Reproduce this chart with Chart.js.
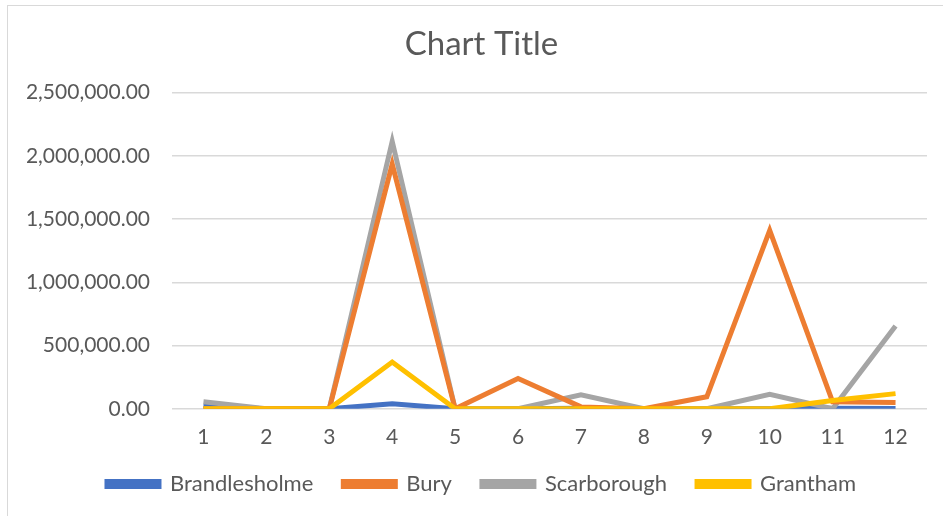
<!DOCTYPE html>
<html>
<head>
<meta charset="utf-8">
<script src="https://cdn.jsdelivr.net/npm/chart.js@4"></script>
<style>
    html, body { margin: 0; padding: 0; background: #fff; }
    #wrap { position: relative; width: 943px; height: 516px; overflow: hidden; }
    #frame { position: absolute; left: 7px; top: 5px; width: 960px; height: 540px; border: 1px solid #d9d9d9; box-sizing: border-box; }
    canvas { position: absolute; left: 0; top: 0; }
</style>
</head>
<body>
<div id="wrap">
    <div id="frame"></div>
    <canvas id="chart" width="943" height="516"></canvas>
</div>
<script>
// Monthly values per site
const months = ['1', '2', '3', '4', '5', '6', '7', '8', '9', '10', '11', '12'];
const brandlesholme = [20000, 0, 0, 40000, 0, 0, 5000, 0, 0, 0, 5000, 3000];
const bury = [0, 0, 0, 1935000, 0, 240000, 15000, 0, 95000, 1410000, 55000, 50000];
const scarborough = [55000, 0, 0, 2115000, 0, 0, 110000, 0, 0, 115000, 0, 655000];
const grantham = [0, 0, 0, 370000, 0, 0, 0, 0, 0, 0, 65000, 120000];
const yTicks = [0, 500000, 1000000, 1500000, 2000000, 2500000];

const textColor = '#595959';
const fontFamily = 'Lato, "Open Sans", sans-serif';

function series(label, data, color, order) {
    return {
        label: label,
        data: data,
        borderColor: color,
        backgroundColor: color,
        borderWidth: 5,
        pointRadius: 0,
        tension: 0,
        order: order
    };
}

// nudge title and legend: legend up (keeps wide item spacing), both a bit right
const boxNudge = {
    id: 'boxNudge',
    afterLayout(chart) {
        const lg = chart.legend;
        lg.top -= 23;
        lg.bottom -= 23;
        lg.left += 13;
        lg.right += 13;
        const tt = chart.titleBlock;
        tt.left += 13;
        tt.right += 13;
    }
};

new Chart(document.getElementById('chart').getContext('2d'), {
    type: 'line',
    data: {
        labels: months,
        datasets: [
            series('Brandlesholme', brandlesholme, '#4472C4', 3),
            series('Bury', bury, '#ED7D31', 1),
            series('Scarborough', scarborough, '#A5A5A5', 2),
            series('Grantham', grantham, '#FFC000', 0)
        ]
    },
    plugins: [boxNudge],
    options: {
        responsive: false,
        animation: false,
        layout: { padding: { left: 10, right: 16, top: 0, bottom: -12 } },
        plugins: {
            title: {
                display: true,
                text: 'Chart Title',
                color: textColor,
                font: { family: fontFamily, size: 33, weight: 'normal' },
                padding: { top: 25, bottom: 28 }
            },
            legend: {
                position: 'bottom',
                labels: {
                    color: textColor,
                    font: { family: fontFamily, size: 22 },
                    boxWidth: 52,
                    boxHeight: 5,
                    padding: 30,
                    sort: (a, b) => a.datasetIndex - b.datasetIndex
                }
            },
            tooltip: { enabled: false }
        },
        scales: {
            x: {
                offset: true,
                grid: { display: false, drawTicks: false },
                border: { display: false },
                ticks: {
                    color: textColor,
                    font: { family: fontFamily, size: 21 },
                    padding: 16
                }
            },
            y: {
                min: 0,
                max: 2500000,
                afterBuildTicks: (axis) => {
                    axis.ticks = yTicks.map(v => ({ value: v }));
                },
                afterFit: (axis) => { axis.width = 162; },
                grid: { color: '#d9d9d9', lineWidth: 1.5, drawTicks: false },
                border: { display: false },
                ticks: {
                    color: textColor,
                    font: { family: fontFamily, size: 21 },
                    padding: 22,
                    callback: (v) => Number(v).toLocaleString('en-US', { minimumFractionDigits: 2, maximumFractionDigits: 2 })
                }
            }
        }
    }
});
</script>
</body>
</html>
